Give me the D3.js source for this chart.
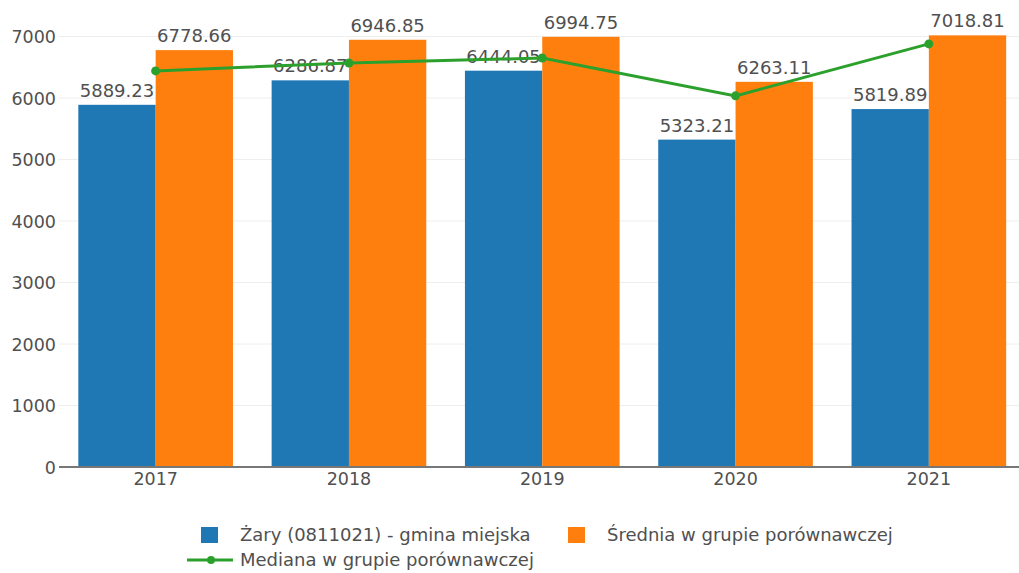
<!DOCTYPE html>
<html>
<head>
<meta charset="utf-8">
<script src="https://cdn.jsdelivr.net/npm/d3@7/dist/d3.min.js"></script>
<style>
  body { margin: 0; background: #fff; }
  svg text { font-family: "DejaVu Sans", Verdana, sans-serif; fill: #505050; }
</style>
</head>
<body>
<div id="chart"></div>
<script>
var years = ["2017", "2018", "2019", "2020", "2021"];
var gminaValues = [5889.23, 6286.87, 6444.05, 5323.21, 5819.89];
var sredniaValues = [6778.66, 6946.85, 6994.75, 6263.11, 7018.81];
var medianaValues = [6440, 6570, 6650, 6035, 6880];
var yTicks = [0, 1000, 2000, 3000, 4000, 5000, 6000, 7000];
var seriesNames = ["Żary (0811021) - gmina miejska", "Średnia w grupie porównawczej", "Mediana w grupie porównawczej"];
var seriesKeys = ["gmina", "srednia"];

var colors = {gmina: "#1f77b4", srednia: "#ff7f0e", mediana: "#2ca02c"};

var width = 1019, height = 573;

var data = years.map(function(y, i) {
    return {year: y, gmina: gminaValues[i], srednia: sredniaValues[i], mediana: medianaValues[i]};
});

var svg = d3.select("#chart").append("svg")
    .attr("width", width)
    .attr("height", height);

var x = d3.scaleBand()
    .domain(years)
    .range([59, 1025.5])
    .paddingInner(0.2)
    .paddingOuter(0.1);

var xBar = d3.scaleBand()
    .domain(seriesKeys)
    .range([0, x.bandwidth()])
    .padding(0);

var y = d3.scaleLinear()
    .domain([0, 7000])
    .range([467, 36.5]);

// grid lines
svg.append("g")
    .selectAll("line")
    .data(yTicks.filter(Number))
    .enter().append("line")
    .attr("x1", 59)
    .attr("x2", width)
    .attr("y1", function(d) { return y(d); })
    .attr("y2", function(d) { return y(d); })
    .attr("stroke", "#eee")
    .attr("stroke-width", 1);

var yAxis = d3.axisLeft(y)
    .tickValues(yTicks)
    .tickFormat(function(d) { return d; })
    .tickSize(0)
    .tickPadding(3);

svg.append("g")
    .attr("class", "yAxis")
    .attr("transform", "translate(59,0)")
    .call(yAxis)
    .call(function(g) {
        g.select(".domain").remove();
        g.selectAll("text").style("font-size", "17.5px").attr("dy", "0.35em");
    });

// bars
var groups = svg.append("g")
    .selectAll("g")
    .data(data)
    .enter().append("g")
    .attr("transform", function(d) { return "translate(" + x(d.year) + ",0)"; });

groups.selectAll("rect")
    .data(function(d) {
        return seriesKeys.map(function(k) { return {key: k, value: d[k]}; });
    })
    .enter().append("rect")
    .attr("x", function(d) { return xBar(d.key); })
    .attr("width", xBar.bandwidth())
    .attr("y", function(d) { return y(d.value); })
    .attr("height", function(d) { return y(0) - y(d.value); })
    .attr("fill", function(d) { return colors[d.key]; });

groups.selectAll("text.val")
    .data(function(d) {
        return seriesKeys.map(function(k) { return {key: k, value: d[k]}; });
    })
    .enter().append("text")
    .attr("class", "val")
    .attr("x", function(d) { return xBar(d.key) + xBar.bandwidth() / 2; })
    .attr("y", function(d) { return y(d.value) - 8; })
    .attr("text-anchor", "middle")
    .style("font-size", "18px")
    .text(function(d) { return d.value.toFixed(2); });

// x axis
var xAxis = d3.axisBottom(x).tickSize(0).tickPadding(6);

svg.append("g")
    .attr("class", "xAxis")
    .attr("transform", "translate(0," + y(0) + ")")
    .call(xAxis)
    .call(function(g) {
        g.select(".domain").remove();
        g.selectAll("text").style("font-size", "17.5px");
    });

svg.append("line")
    .attr("x1", 59)
    .attr("x2", width)
    .attr("y1", y(0))
    .attr("y2", y(0))
    .attr("stroke", "#777")
    .attr("stroke-width", 2);

// median line
var line = d3.line()
    .x(function(d) { return x(d.year) + x.bandwidth() / 2; })
    .y(function(d) { return y(d.mediana); });

svg.append("path")
    .datum(data)
    .attr("d", line)
    .attr("fill", "none")
    .attr("stroke", colors.mediana)
    .attr("stroke-width", 3);

svg.append("g")
    .selectAll("circle")
    .data(data)
    .enter().append("circle")
    .attr("cx", function(d) { return x(d.year) + x.bandwidth() / 2; })
    .attr("cy", function(d) { return y(d.mediana); })
    .attr("r", 4.5)
    .attr("fill", colors.mediana);

// legend
var legend = svg.append("g").style("font-size", "18px");

legend.append("rect").attr("x", 201).attr("y", 527).attr("width", 17).attr("height", 16).attr("fill", colors.gmina);
legend.append("text").attr("x", 240).attr("y", 535).attr("dy", "0.35em").text(seriesNames[0]);

legend.append("rect").attr("x", 568).attr("y", 527).attr("width", 17).attr("height", 16).attr("fill", colors.srednia);
legend.append("text").attr("x", 607).attr("y", 535).attr("dy", "0.35em").text(seriesNames[1]);

legend.append("line").attr("x1", 187).attr("x2", 233).attr("y1", 560).attr("y2", 560)
    .attr("stroke", colors.mediana).attr("stroke-width", 3);
legend.append("circle").attr("cx", 211).attr("cy", 560).attr("r", 4).attr("fill", colors.mediana);
legend.append("text").attr("x", 240).attr("y", 560).attr("dy", "0.35em").text(seriesNames[2]);
</script>
</body>
</html>
